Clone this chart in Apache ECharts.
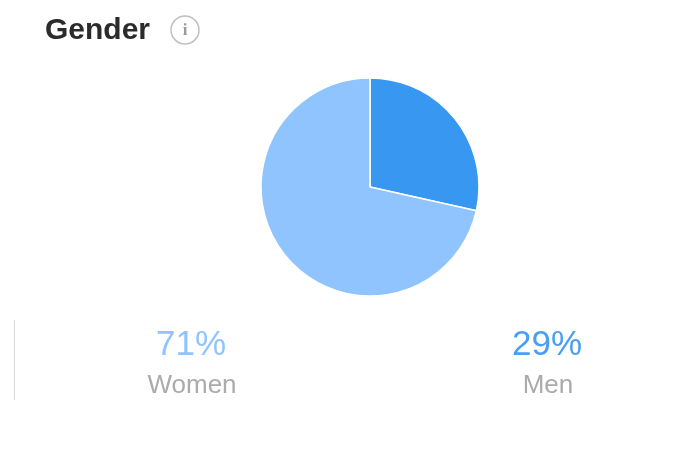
<!DOCTYPE html>
<html><head><meta charset="utf-8">
<style>html,body{margin:0;padding:0;background:#fff}#c{width:690px;height:458px}</style>
<script src="https://cdn.jsdelivr.net/npm/echarts@6/dist/echarts.min.js"></script>
</head><body><div id="c"></div>
<script>
const categories = ["Men", "Women"];
const values = [28.5, 71.5];
const percentLabels = ["71%", "29%"];
const bottomLabels = ["Women", "Men"];
const chart = echarts.init(document.getElementById('c'));
const font = '"Liberation Sans", Arial, sans-serif';
chart.setOption({
  animation: false,
  graphic: [
    {type:'text',x:45,y:31,style:{text:'Gender',font:'bold 30px '+font,fill:'#2b2b2b',verticalAlign:'middle'}},
    {type:'circle',shape:{cx:185,cy:30,r:14},style:{fill:'none',stroke:'#c0c0c0',lineWidth:1.5}},
    {type:'text',x:185,y:31,style:{text:'i',font:'bold 17px "Liberation Serif", serif',fill:'#9a9a9a',align:'center',verticalAlign:'middle'}},
    {type:'line',shape:{x1:14.5,y1:320,x2:14.5,y2:400},style:{stroke:'#d9d9d9',lineWidth:1}},
    {type:'text',x:191,y:345,style:{text:percentLabels[0],font:'35px '+font,fill:'#8fc4ff',align:'center',verticalAlign:'middle'}},
    {type:'text',x:547,y:345,style:{text:percentLabels[1],font:'35px '+font,fill:'#4a9ff2',align:'center',verticalAlign:'middle'}},
    {type:'text',x:192,y:386,style:{text:bottomLabels[0],font:'26px '+font,fill:'#ababab',align:'center',verticalAlign:'middle'}},
    {type:'text',x:548,y:386,style:{text:bottomLabels[1],font:'26px '+font,fill:'#ababab',align:'center',verticalAlign:'middle'}}
  ],
  series: [{
    type:'pie', center:[370,187], radius:[0,109], startAngle:90, clockwise:true,
    label:{show:false}, labelLine:{show:false}, silent:true,
    itemStyle:{borderColor:'#ffffff',borderWidth:1.5},
    data: categories.map((n,i)=>({name:n,value:values[i],itemStyle:{color:i===0?'#3897f0':'#8fc4ff'}}))
  }]
});
</script></body></html>
